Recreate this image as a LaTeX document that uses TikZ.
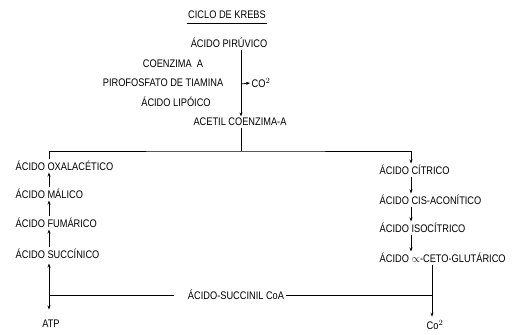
\documentclass[tikz,border=0pt]{standalone}
\usepackage{fontspec}
\setmainfont{Liberation Sans}[FakeStretch=0.84]
\usetikzlibrary{arrows.meta}
\begin{document}
\begin{tikzpicture}[x=1pt,y=-1pt,
  txt/.style={inner sep=1.5pt,font=\fontsize{11}{13}\selectfont},
  lbl/.style={txt,anchor=west},
  ln/.style={line width=0.75pt},
  arr/.style={ln,-{Stealth[length=4pt,width=3pt]}}]
\useasboundingbox (0,0) rectangle (526,334);
\node[txt] (title) at (227,15) {CICLO DE KREBS};
\draw[ln] ([yshift=-2.5pt]title.south west) -- ([yshift=-2.5pt]title.south east);
\node[txt] (pir) at (229,43) {ÁCIDO PIRÚVICO};
\node[txt] (coe) at (173,64) {COENZIMA\ \ A};
\node[txt] (tpp) at (163,83) {PIROFOSFATO DE TIAMINA};
\node[txt] (lip) at (176,102) {ÁCIDO LIPÓICO};
\node[txt] (acet) at (240,122) {ACETIL COENZIMA-A};
\node[lbl] (co2a) at (250,83) {CO$^2$};
\coordinate (ax) at (241,0);
\coordinate (bra) at (241,84);
\draw[arr] (pir.south -| ax) -- (acet.north -| ax);
\draw[arr] (bra) -- (co2a.west);
% left column
\node[lbl] (oxa) at (14,166) {ÁCIDO OXALACÉTICO};
\node[lbl] (mal) at (14,194) {ÁCIDO MÁLICO};
\node[lbl] (fum) at (14,223) {ÁCIDO FUMÁRICO};
\node[lbl] (suc) at (14,254) {ÁCIDO SUCCÍNICO};
% right column
\node[lbl] (cit) at (378,170) {ÁCIDO CÍTRICO};
\node[lbl] (cis) at (378,200) {ÁCIDO CIS-ACONÍTICO};
\node[lbl] (iso) at (378,228) {ÁCIDO ISOCÍTRICO};
\node[lbl] (akg) at (378,258) {ÁCIDO $\propto$-CETO-GLUTÁRICO};
\coordinate (lx) at (49,0);
\coordinate (rx) at (411,0);
\coordinate (jt) at (241,151);
\draw[ln] (acet.south -| ax) -- (jt);
\draw[arr] (oxa.north -| lx) |- (jt) -| (cit.north -| rx);
\draw[arr] (mal.north -| lx) -- (oxa.south -| lx);
\draw[arr] (fum.north -| lx) -- (mal.south -| lx);
\draw[arr] (suc.north -| lx) -- (fum.south -| lx);
\draw[arr] (cit.south -| rx) -- (cis.north -| rx);
\draw[arr] (cis.south -| rx) -- (iso.north -| rx);
\draw[arr] (iso.south -| rx) -- (akg.north -| rx);
% bottom
\node[txt] (scoa) at (236,295) {ÁCIDO-SUCCINIL CoA};
\node[txt] (atp) at (51,324) {ATP};
\node[txt] (co2b) at (435,325) {Co$^2$};
\coordinate (bl) at (49,295);
\coordinate (brr) at (432,295);
\draw[ln] (bl) -- ([xshift=-12pt]scoa.west);
\draw[ln] (scoa.east) -- (brr);
\draw[arr,shorten >=3pt] (bl) -- (suc.south -| lx);
\draw[arr,shorten >=9pt] (bl) -- (atp.north -| lx);
\draw[arr,shorten >=2pt] (akg.south -| brr) -- (co2b.north -| brr);
\end{tikzpicture}
\end{document}
